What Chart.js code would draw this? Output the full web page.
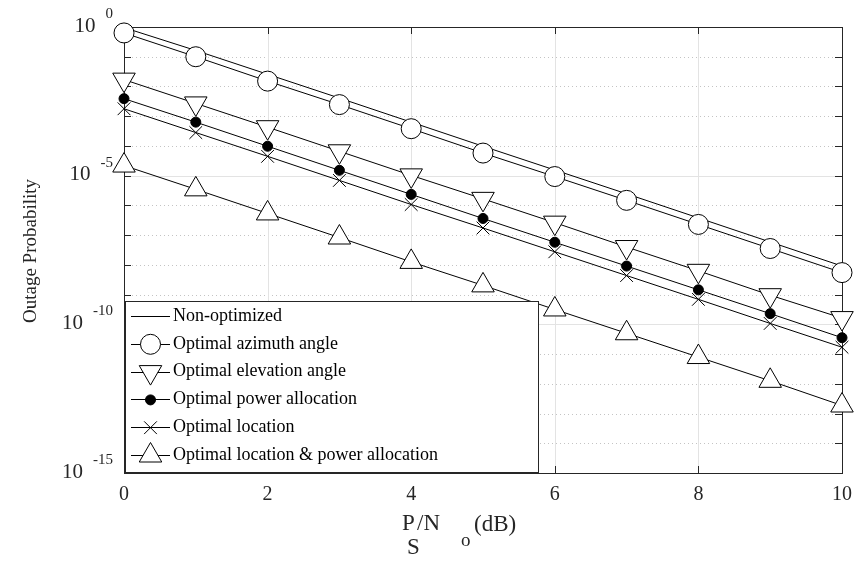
<!DOCTYPE html>
<html>
<head>
<meta charset="utf-8">
<script src="https://cdn.jsdelivr.net/npm/chart.js@4.4.1/dist/chart.umd.min.js"></script>
<style>
  html, body { margin: 0; padding: 0; background: #fff; }
</style>
</head>
<body>
<canvas id="outageChart" width="856" height="561"></canvas>
<script>
// P_S/N_o (dB)
const snrDb = [0, 1, 2, 3, 4, 5, 6, 7, 8, 9, 10];

// log10 of outage probability
const nonOptimized   = [-0.02, -0.79, -1.59, -2.39, -3.2, -4.01, -4.81, -5.61, -6.42, -7.23, -8.04];
const optAzimuth     = [-0.2, -1.0, -1.82, -2.61, -3.42, -4.24, -5.03, -5.83, -6.64, -7.45, -8.26];
const optElevation   = [-1.77, -2.57, -3.37, -4.18, -4.99, -5.78, -6.58, -7.4, -8.2, -9.02, -9.79];
const optPower       = [-2.41, -3.2, -4.01, -4.82, -5.63, -6.44, -7.24, -8.04, -8.84, -9.64, -10.45];
const optLocation    = [-2.75, -3.55, -4.35, -5.16, -5.97, -6.76, -7.56, -8.36, -9.16, -9.97, -10.77];
const optLocPower    = [-4.66, -5.46, -6.27, -7.08, -7.9, -8.69, -9.5, -10.3, -11.1, -11.9, -12.73];

const seriesNames = [
  'Non-optimized',
  'Optimal azimuth angle',
  'Optimal elevation angle',
  'Optimal power allocation',
  'Optimal location',
  'Optimal location & power allocation'
];

const xTicks = [0, 2, 4, 6, 8, 10];
const yMajorExps = [0, -5, -10, -15];
const yMinorExps = [-1, -2, -3, -4, -6, -7, -8, -9, -11, -12, -13, -14];

const serif = "'Liberation Serif', 'Times New Roman', serif";
const ink = '#262626';

function pts(exps) {
  return snrDb.map((x, i) => ({ x: x, y: Math.pow(10, exps[i]) }));
}

function mkSet(label, exps, style) {
  return Object.assign({
    label: label,
    data: pts(exps),
    borderColor: '#000',
    borderWidth: 1,
    pointBorderColor: '#000',
    pointBorderWidth: 1,
    pointBackgroundColor: '#fff',
    pointHoverRadius: 0,
    tension: 0,
    clip: false,
    order: 0
  }, style);
}

const datasets = [
  mkSet(seriesNames[0], nonOptimized, { pointRadius: 0, order: 1 }),
  mkSet(seriesNames[1], optAzimuth, { pointStyle: 'circle', pointRadius: 10 }),
  mkSet(seriesNames[2], optElevation, { pointStyle: 'triangle', pointRotation: 180, pointRadius: 13 }),
  mkSet(seriesNames[3], optPower, { pointStyle: 'circle', pointRadius: 5, pointBackgroundColor: '#000' }),
  mkSet(seriesNames[4], optLocation, { pointStyle: 'crossRot', pointRadius: 9 }),
  mkSet(seriesNames[5], optLocPower, { pointStyle: 'triangle', pointRadius: 13 })
];

function hline(ctx, x0, x1, y) {
  ctx.beginPath(); ctx.moveTo(x0, y); ctx.lineTo(x1, y); ctx.stroke();
}
function vline(ctx, x, y0, y1) {
  ctx.beginPath(); ctx.moveTo(x, y0); ctx.lineTo(x, y1); ctx.stroke();
}

// MATLAB-like axes: grid, box and inward ticks
const matlabAxes = {
  id: 'matlabAxes',
  beforeDatasetsDraw(chart) {
    const { ctx, chartArea: a, scales: { x, y } } = chart;
    const tl = 7;
    ctx.save();
    ctx.lineWidth = 1;

    ctx.strokeStyle = '#c4c4c4';
    ctx.setLineDash([1, 3]);
    yMinorExps.forEach(e => {
      const py = Math.round(y.getPixelForValue(Math.pow(10, e))) + 0.5;
      hline(ctx, a.left, a.right, py);
    });
    ctx.setLineDash([]);

    ctx.strokeStyle = '#e3e3e3';
    yMajorExps.forEach(e => {
      const py = Math.round(y.getPixelForValue(Math.pow(10, e))) + 0.5;
      hline(ctx, a.left, a.right, py);
    });
    xTicks.forEach(v => {
      const px = Math.round(x.getPixelForValue(v)) + 0.5;
      vline(ctx, px, a.top, a.bottom);
    });

    ctx.strokeStyle = ink;
    yMajorExps.concat(yMinorExps).forEach(e => {
      const py = Math.round(y.getPixelForValue(Math.pow(10, e))) + 0.5;
      hline(ctx, a.left, a.left + tl, py);
      hline(ctx, a.right - tl, a.right, py);
    });
    xTicks.forEach(v => {
      const px = Math.round(x.getPixelForValue(v)) + 0.5;
      vline(ctx, px, a.bottom - tl, a.bottom);
      vline(ctx, px, a.top, a.top + tl);
    });
    ctx.strokeRect(Math.round(a.left) + 0.5, Math.round(a.top) + 0.5,
      Math.round(a.right - a.left), Math.round(a.bottom - a.top));
    ctx.restore();
  },
  afterDraw(chart) {
    const { ctx, scales: { y } } = chart;
    ctx.save();
    ctx.fillStyle = ink;

    // y tick labels: 10 with raised exponent
    yMajorExps.forEach(e => {
      const py = y.getPixelForValue(Math.pow(10, e));
      const expTxt = e === 0 ? '0' : String(e);
      ctx.font = '15px ' + serif;
      ctx.textAlign = 'right';
      ctx.textBaseline = 'middle';
      const ew = ctx.measureText(expTxt).width;
      ctx.fillText(expTxt, 113, py - 13);
      ctx.font = '21px ' + serif;
      ctx.fillText('10', 113 - ew - 10, py - 1);
    });

    // y title
    ctx.save();
    ctx.translate(31, 251);
    ctx.rotate(-Math.PI / 2);
    ctx.font = '19px ' + serif;
    ctx.textAlign = 'center';
    ctx.textBaseline = 'middle';
    ctx.fillText('Outage Probability', 0, 0);
    ctx.restore();

    // x title  P_S/N_o (dB)
    ctx.textAlign = 'left';
    ctx.textBaseline = 'alphabetic';
    ctx.font = '23px ' + serif;
    ctx.fillText('P', 402, 530);
    ctx.fillText('/N', 417, 530);
    ctx.fillText('(dB)', 474, 531);
    ctx.fillText('S', 407, 554);
    ctx.font = '19px ' + serif;
    ctx.fillText('o', 461, 546);

    // legend
    const lx = 125, ly = 301, lw = 413, lh = 171;
    ctx.fillStyle = '#fff';
    ctx.fillRect(lx, ly, lw, lh);
    ctx.strokeStyle = ink;
    ctx.lineWidth = 1;
    ctx.strokeRect(lx + 0.5, ly + 0.5, lw, lh);
    chart.data.datasets.forEach((ds, i) => {
      const cy = ly + 15 + i * 27.8;
      ctx.strokeStyle = '#000';
      ctx.lineWidth = 1;
      hline(ctx, lx + 6, lx + 45, Math.round(cy) + 0.5);
      if (ds.pointRadius > 0) {
        ctx.fillStyle = ds.pointBackgroundColor;
        ctx.strokeStyle = '#000';
        Chart.helpers.drawPoint(ctx, {
          pointStyle: ds.pointStyle,
          rotation: ds.pointRotation || 0,
          radius: ds.pointRadius,
          borderWidth: 1
        }, lx + 25.5, cy + 0.5);
      }
      ctx.fillStyle = '#000';
      ctx.font = '18px ' + serif;
      ctx.textAlign = 'left';
      ctx.textBaseline = 'middle';
      ctx.fillText(ds.label, lx + 48, cy);
    });
    ctx.restore();
  }
};

new Chart(document.getElementById('outageChart').getContext('2d'), {
  type: 'line',
  data: { datasets: datasets },
  options: {
    responsive: false,
    animation: false,
    layout: { padding: { left: 0, right: 13, top: 27, bottom: 0 } },
    plugins: { legend: { display: false }, tooltip: { enabled: false } },
    scales: {
      x: {
        type: 'linear',
        min: 0,
        max: 10,
        afterBuildTicks: s => { s.ticks = xTicks.map(v => ({ value: v })); },
        afterFit: s => { s.height = 88; s.paddingLeft = 0; s.paddingRight = 0; },
        grid: { display: false, drawTicks: false },
        border: { display: false },
        ticks: { color: ink, padding: 10, font: { family: serif, size: 20 } }
      },
      y: {
        type: 'logarithmic',
        min: 1e-15,
        max: 1,
        afterFit: s => { s.width = 124; s.paddingTop = 0; s.paddingBottom = 0; },
        grid: { display: false, drawTicks: false },
        border: { display: false },
        ticks: { display: false }
      }
    }
  },
  plugins: [matlabAxes]
});
</script>
</body>
</html>
